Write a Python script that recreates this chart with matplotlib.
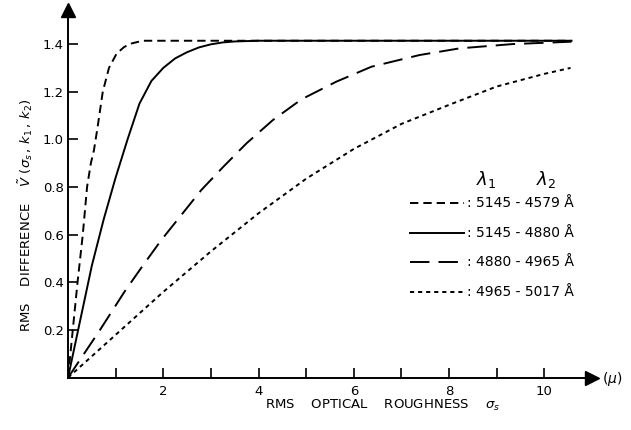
import matplotlib
matplotlib.use("Agg")
import matplotlib.pyplot as plt

plt.rcParams['font.family'] = ['DejaVu Sans']
plt.rcParams['lines.scale_dashes'] = False
plt.rcParams['mathtext.fontset'] = 'dejavusans'

# Data (sigma_s in microns, V tilde)
x_5145_4579 = [0, 0.10, 0.20, 0.31, 0.40, 0.48, 0.545, 0.62, 0.73, 0.86, 1.02, 1.18, 1.34, 1.57, 2.0, 3.0, 10.57]
y_5145_4579 = [0, 0.20, 0.40, 0.60, 0.80, 0.90, 0.955, 1.05, 1.20, 1.30, 1.36, 1.388, 1.403, 1.414, 1.414, 1.414, 1.414]

x_5145_4880 = [0, 0.25, 0.50, 0.75, 1.00, 1.25, 1.50, 1.75, 2.00, 2.25, 2.50, 2.75, 3.00, 3.25, 3.50, 4.00, 10.57]
y_5145_4880 = [0, 0.235, 0.47, 0.665, 0.84, 1.00, 1.15, 1.245, 1.30, 1.34, 1.366, 1.386, 1.399, 1.407, 1.411, 1.414, 1.414]

x_4880_4965 = [0, 0.67, 1.19, 1.58, 1.96, 2.38, 2.80, 3.26, 3.75, 4.30, 4.90, 5.63, 6.37, 7.38, 8.22, 9.33, 10.57]
y_4880_4965 = [0, 0.20, 0.362, 0.473, 0.578, 0.683, 0.788, 0.885, 0.984, 1.081, 1.168, 1.242, 1.305, 1.354, 1.382, 1.400, 1.410]

x_4965_5017 = [0, 1.0, 2.0, 3.0, 4.0, 5.0, 6.0, 7.0, 8.0, 9.0, 10.0, 10.55]
y_4965_5017 = [0, 0.18, 0.36, 0.53, 0.69, 0.835, 0.96, 1.065, 1.145, 1.222, 1.275, 1.30]

legend_labels = [": 5145 - 4579 Å", ": 5145 - 4880 Å", ": 4880 - 4965 Å", ": 4965 - 5017 Å"]
y_ticks = [0.2, 0.4, 0.6, 0.8, 1.0, 1.2, 1.4]
y_ticklabels = ["0.2", "0.4", "0.6", "0.8", "1.0", "1.2", "1.4"]
x_major = [2, 4, 6, 8, 10]
x_minor = [1, 3, 5, 7, 9]

W, H = 631, 430
fig = plt.figure(figsize=(W / 100, H / 100), dpi=100)
ax = fig.add_axes([68 / W, (H - 377.7) / H, (592 - 68) / W, (377.7 - 10) / H])
ax.set_xlim(0, 11.0)
ax.set_ylim(0, 1.543)

styles = [
    dict(linestyle=(0, (6.0, 3.6)), lw=1.4),
    dict(linestyle='-', lw=1.4),
    dict(linestyle=(0, (14.0, 6.5)), lw=1.4),
    dict(linestyle=(0, (3.0, 2.8)), lw=1.4),
]
series = [(x_5145_4579, y_5145_4579), (x_5145_4880, y_5145_4880),
          (x_4880_4965, y_4880_4965), (x_4965_5017, y_4965_5017)]
for (xs, ys), st in zip(series, styles):
    ax.plot(xs, ys, color='black', solid_joinstyle='round', dash_joinstyle='round', **st)

# axes style
for s in ['top', 'right']:
    ax.spines[s].set_visible(False)
for s in ['left', 'bottom']:
    ax.spines[s].set_linewidth(1.4)
ax.plot([0], [1], marker='^', markersize=10, color='black', transform=ax.transAxes, clip_on=False)
ax.plot([1], [0], marker='>', markersize=10, color='black', transform=ax.transAxes, clip_on=False)

ax.set_yticks(y_ticks)
ax.set_yticklabels(y_ticklabels)
ax.set_xticks(x_major)
ax.set_xticks(x_minor, minor=True)
ax.tick_params(axis='both', which='both', direction='in', length=7, width=1.2, labelsize=9.5)
ax.tick_params(axis='y', pad=3)
ax.tick_params(axis='x', pad=5)

# legend drawn manually
rows_y = [0.733, 0.607, 0.485, 0.359]
leg_x0, leg_x1 = 7.17, 8.32
for ry, st, lab in zip(rows_y, styles, legend_labels):
    ax.plot([leg_x0, leg_x1], [ry, ry], color='black', **st)
    ax.text(leg_x1 + 0.05, ry, lab, fontsize=10, va='center', ha='left')
ax.text(8.78, 0.83, r"$\lambda_1$", fontsize=13, ha='center', va='center')
ax.text(10.04, 0.83, r"$\lambda_2$", fontsize=13, ha='center', va='center')

fig.text(383 / W, 1 - 405 / H, r"RMS    OPTICAL    ROUGHNESS    $\sigma_s$", fontsize=9.5,
         ha='center', va='center')
fig.text(26 / W, 1 - 215 / H, r"RMS    DIFFERENCE    $\tilde{V}\ (\sigma_s\,,\,k_1\,,\,k_2)$", fontsize=9.5,
         ha='center', va='center', rotation=90)
fig.text(612 / W, 1 - 379 / H, r"$(\mu)$", fontsize=10, ha='center', va='center')

fig.savefig("out.png", dpi=100)
